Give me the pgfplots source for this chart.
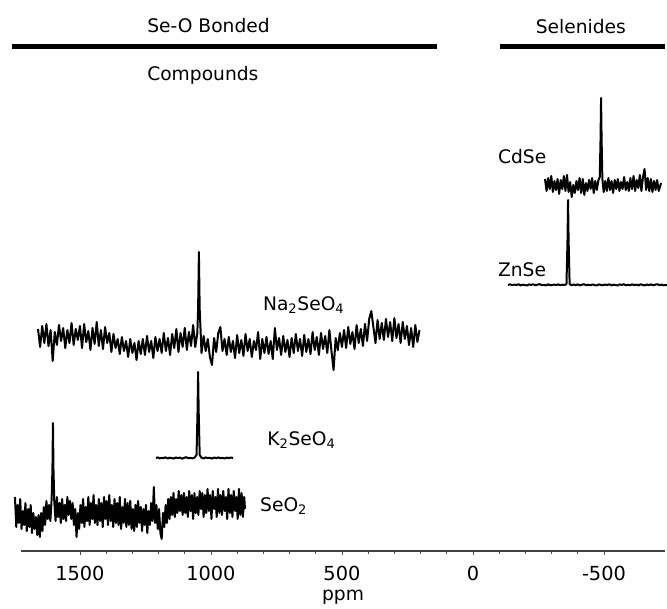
\documentclass[border=0pt]{standalone}
\usepackage{fontspec}
\setmainfont{DejaVu Sans}
\usepackage{pgfplots}
\pgfplotsset{compat=1.18}
\pgfplotsset{spec/.style={black, no markers, line width=1.5pt, line join=round}}

\begin{document}
\begin{tikzpicture}
\begin{axis}[
  at={(15.75pt,43.5pt)}, anchor=south west,
  scale only axis, width=483pt, height=413.25pt,
  x dir=reverse,
  xmin=-733, xmax=1725, ymin=58, ymax=609,
  clip=false,
  axis x line*=bottom,
  hide y axis,
  axis line style={draw=black!75, line width=0.8pt},
  xtick={1500,1000,500,0,-500},
  xticklabels={1500,1000,500,0,-500},
  minor x tick num=4,
  tick align=outside,
  major tick length=3pt, minor tick length=2pt,
  tick style={draw=black!70, line width=0.6pt},
  tick label style={font=\fontsize{14.5}{16}\selectfont, yshift=-5pt},
  xlabel={ppm},
  xlabel style={font=\fontsize{14}{16}\selectfont, at={(axis description cs:0.5,0)},
    anchor=center, yshift=-34.5pt},
]
% Na2SeO4
\addplot[spec] coordinates {
(1660,280) (1652,262) (1644,283) (1636,266) (1628,285) (1620,263) (1612,279) (1604,248) (1596,277) (1588,264)
(1580,284) (1572,268) (1564,281) (1556,261) (1548,279) (1540,266) (1532,286) (1524,264) (1516,280) (1508,269)
(1500,283) (1492,261) (1484,285) (1476,267) (1468,278) (1460,259) (1452,281) (1444,265) (1436,287) (1428,263)
(1420,279) (1412,260) (1404,282) (1396,266) (1388,276) (1380,257) (1372,275) (1364,261) (1356,270) (1348,255)
(1340,272) (1332,258) (1324,268) (1316,252) (1308,270) (1300,256) (1292,266) (1284,249) (1276,268) (1268,255)
(1260,270) (1252,254) (1244,273) (1236,257) (1228,268) (1220,251) (1212,272) (1204,258) (1196,270) (1188,256)
(1180,276) (1172,258) (1164,271) (1156,254) (1148,275) (1140,261) (1132,280) (1124,257) (1116,276) (1108,262)
(1100,281) (1092,259) (1084,277) (1076,263) (1068,284) (1060,262) (1052,276) (1049,300) (1046,357) (1043,300)
(1036,256) (1028,273) (1020,258) (1012,270) (1004,252) (996,244) (988,271) (980,257) (972,276)
(964,282) (956,258) (948,270) (940,254) (932,272) (924,257) (916,268) (908,251) (900,274)
(892,256) (884,269) (876,253) (868,275) (860,258) (852,270) (844,252) (836,268) (828,259) (820,277)
(812,250) (804,270) (796,256) (788,272) (780,255) (772,268) (764,250) (756,281) (748,259) (740,271)
(732,254) (724,273) (716,257) (708,269) (700,252) (692,271) (684,256) (676,275) (668,258) (660,270)
(652,253) (644,274) (636,257) (628,270) (620,255) (612,277) (604,259) (596,272) (588,254) (580,276)
(572,260) (564,273) (556,256) (548,279) (540,258) (532,239) (524,271) (516,259) (508,276) (500,262)
(492,279) (484,261) (476,282) (468,265) (460,277) (452,260) (444,284) (436,266) (428,280) (420,263)
(412,285) (404,268) (396,290) (388,298) (380,282) (372,266) (364,289) (356,270) (348,286) (340,269)
(332,290) (324,272) (316,287) (308,268) (300,291) (292,271) (284,285) (276,266) (268,287) (260,270)
(252,283) (244,264) (236,281) (228,262) (220,284) (212,267) (204,279)
};
% K2SeO4
\addplot[spec] coordinates {
(1210,151) (1203,151.6) (1196,150.6) (1188,151.2) (1181,150.8) (1174,151.7)
(1166,150.5) (1158,151.3) (1150,151) (1142,150.4) (1134,151.5) (1126,150.9)
(1118,151.4) (1110,150.3) (1102,151.2) (1094,151.8) (1086,150.7) (1078,151.1)
(1070,150.6) (1062,151.5) (1055,154) (1051,200) (1049,237) (1047,200)
(1043,154) (1036,151.3) (1028,150.5) (1020,151.6) (1012,150.9) (1004,151.2)
(996,150.4) (988,151.5) (980,150.8) (972,151.6) (964,150.7) (956,151.2)
(948,150.5) (940,151.4) (932,150.9) (924,151.5) (916,151)
};
% SeO2
\addplot[spec] coordinates {
(1748,112) (1743,82) (1738,104) (1733,86) (1728,110) (1723,80) (1718,98) (1713,84) (1708,106) (1703,78)
(1698,100) (1693,82) (1688,104) (1683,76) (1678,96) (1673,80) (1668,92) (1663,74) (1658,94) (1653,72)
(1648,96) (1643,78) (1638,102) (1633,84) (1628,108) (1623,90) (1618,104) (1613,88) (1608,110)
(1605,140) (1603,186) (1601,140)
(1598,108) (1593,88) (1588,112) (1583,92) (1578,106) (1573,86) (1568,110) (1563,90) (1558,104)
(1553,88) (1548,112) (1543,94) (1538,108) (1533,90) (1528,106) (1523,84) (1518,100) (1513,72) (1508,96)
(1503,80) (1498,104) (1493,86) (1488,110) (1483,82) (1478,102) (1473,88) (1468,112) (1463,84) (1458,106)
(1453,90) (1448,114) (1443,86) (1438,104) (1433,84) (1428,110) (1423,88) (1418,106) (1413,82) (1408,112)
(1403,90) (1398,108) (1393,84) (1388,114) (1383,88) (1378,104) (1373,82) (1368,110) (1363,86) (1358,106)
(1353,84) (1348,112) (1343,80) (1338,102) (1333,86) (1328,110) (1323,82) (1318,106) (1313,84) (1308,108)
(1303,80) (1298,100) (1293,78) (1288,104) (1283,82) (1278,108) (1273,86) (1268,102) (1263,78) (1258,100)
(1253,84) (1248,104) (1243,76) (1238,98) (1233,84) (1228,106) (1223,88) (1218,122) (1213,86) (1208,104)
(1203,80) (1198,100) (1193,76) (1188,70) (1183,96) (1178,82) (1173,104) (1168,86) (1163,110) (1158,90)
(1153,112) (1148,94) (1143,116) (1138,92) (1133,110) (1128,96) (1123,118) (1118,98) (1113,114) (1108,94)
(1103,116) (1098,96) (1093,112) (1088,92) (1083,118) (1078,98) (1073,114) (1068,90) (1063,116) (1058,96)
(1053,112) (1048,94) (1043,118) (1038,100) (1033,116) (1028,92) (1023,114) (1018,96) (1013,120) (1008,98)
(1003,114) (998,90) (993,118) (988,100) (983,112) (978,92) (973,120) (968,96) (963,114) (958,94)
(953,118) (948,98) (943,112) (938,90) (933,120) (928,96) (923,114) (918,92) (913,118) (908,98)
(903,112) (898,90) (893,120) (888,94) (883,116) (878,92) (873,112) (870,100)
};
% CdSe
\addplot[spec] coordinates {
(-275,430) (-281,418) (-287,431) (-293,420) (-299,433) (-305,417) (-311,428)
(-317,419) (-323,430) (-329,415) (-335,429) (-341,420) (-347,433) (-353,418)
(-359,434) (-365,417) (-371,427) (-377,412) (-383,424) (-389,416) (-395,428)
(-401,419) (-407,431) (-413,416) (-419,430) (-425,414) (-431,426) (-437,418)
(-443,429) (-449,420) (-455,431) (-461,416) (-467,428) (-473,419) (-479,429)
(-484,432) (-487,470) (-489,511) (-491,470) (-494,430) (-499,417) (-505,428)
(-511,418) (-517,431) (-523,419) (-529,428) (-535,416) (-541,429) (-547,420)
(-553,430) (-559,418) (-565,427) (-571,420) (-577,432) (-583,419) (-589,427)
(-595,418) (-601,431) (-607,420) (-613,433) (-619,418) (-625,429) (-631,421)
(-637,434) (-643,418) (-649,432) (-655,440) (-661,419) (-667,431) (-673,418)
(-679,430) (-685,417) (-691,428) (-697,419) (-703,429) (-709,418) (-718,426)
};
% ZnSe
\addplot[spec] coordinates {
(-134,324) (-142,324.7) (-150,323.8) (-158,324.4) (-166,323.9) (-174,324.8)
(-182,323.6) (-190,324.3) (-198,324) (-206,323.5) (-214,324.6) (-222,324.1)
(-230,324.7) (-238,323.7) (-246,324.3) (-254,324.9) (-262,323.8) (-270,324.2)
(-278,323.6) (-286,324.6) (-294,324) (-302,323.7) (-310,324.5) (-318,323.9)
(-326,324.6) (-334,323.8) (-342,324.3) (-350,324) (-357,325) (-361,370)
(-363,409) (-365,370) (-369,325) (-376,323.7) (-384,324.5) (-392,323.9)
(-400,324.6) (-408,323.6) (-416,324.2) (-424,324.8) (-432,323.8) (-440,324.3)
(-448,323.7) (-456,324.5) (-464,324) (-472,323.5) (-480,324.6) (-488,324.1)
(-496,323.7) (-504,324.5) (-512,323.9) (-520,324.7) (-528,323.6) (-536,324.3)
(-544,324) (-552,323.5) (-560,324.6) (-568,324.1) (-576,324.8) (-584,323.7)
(-592,324.2) (-600,323.8) (-608,324.6) (-616,323.9) (-624,324.4) (-632,323.6)
(-640,324.7) (-648,324) (-656,323.6) (-664,324.5) (-672,323.9) (-680,324.6)
(-688,323.7) (-696,324.3) (-704,324.8) (-712,323.8) (-720,324.4) (-728,323.7) (-740,324)
};
% group bars and labels
\draw[line width=3.75pt] (axis cs:1760,562) -- (axis cs:137,562);
\draw[line width=3.75pt] (axis cs:-103,562) -- (axis cs:-733,562);
\begin{scope}[every node/.style={font=\fontsize{14}{16}\selectfont, inner sep=0pt}]
\node[anchor=west] at (axis cs:1244,583) {Se-O Bonded};
\node[anchor=west] at (axis cs:1244,534) {Compounds};
\node at (axis cs:-412,582) {Selenides};
\node[anchor=west] at (axis cs:-95,452) {CdSe};
\node[anchor=west] at (axis cs:-95,339) {ZnSe};
\node[anchor=west] at (axis cs:802,304) {Na\textsubscript{2}SeO\textsubscript{4}};
\node[anchor=west] at (axis cs:786,169) {K\textsubscript{2}SeO\textsubscript{4}};
\node[anchor=west] at (axis cs:813,103) {SeO\textsubscript{2}};
\end{scope}
\end{axis}
\pgfresetboundingbox
\useasboundingbox (0,0) rectangle (500.25pt,456.75pt);
\end{tikzpicture}
\end{document}
